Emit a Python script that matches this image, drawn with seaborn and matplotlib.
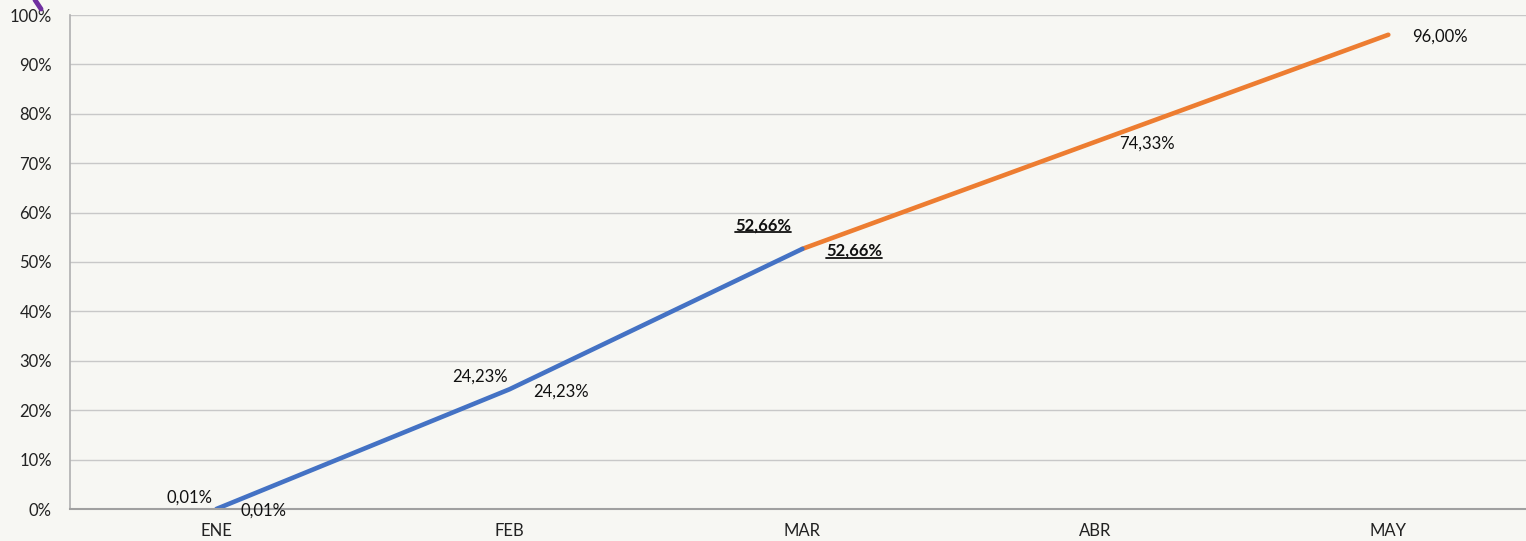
import matplotlib
matplotlib.use("Agg")
import matplotlib.pyplot as plt
import seaborn as sns
import pandas as pd
from matplotlib.lines import Line2D

# datos
meses = ["ENE", "FEB", "MAR", "ABR", "MAY"]
real_meses = ["ENE", "FEB", "MAR"]
real_vals = [0.01, 24.23, 52.66]
proy_meses = ["MAR", "ABR", "MAY"]
proy_vals = [52.66, 74.33, 96.00]
# etiquetas de la serie completa (lado derecho)
etiq_meses = ["ENE", "FEB", "MAR", "ABR", "MAY"]
etiq_vals = [0.01, 24.23, 52.66, 74.33, 96.00]

sns.set_theme(style="white")
plt.rcParams["font.family"] = ["Lato", "DejaVu Sans"]

bg = "#F7F7F3"
azul = "#4472C4"
naranja = "#ED7D31"

df_real = pd.DataFrame({"x": [meses.index(m) for m in real_meses], "y": real_vals})
df_proy = pd.DataFrame({"x": [meses.index(m) for m in proy_meses], "y": proy_vals})

fig = plt.figure(figsize=(15.26, 5.41), dpi=100)
fig.patch.set_facecolor(bg)
ax = fig.add_axes([70 / 1526, 32 / 541, 1456 / 1526, 494 / 541])
ax.set_facecolor(bg)

sns.lineplot(data=df_proy, x="x", y="y", color=naranja, lw=3.3, ax=ax,
             solid_capstyle="round")
sns.lineplot(data=df_real, x="x", y="y", color=azul, lw=3.3, ax=ax,
             solid_capstyle="round")

ax.set_xlim(-0.5, 4.47)
ax.set_ylim(0, 100)
ax.set_xticks(range(len(meses)))
ax.set_xticklabels(meses)
ax.set_yticks(range(0, 101, 10))
ax.set_yticklabels([f"{v}%" for v in range(0, 101, 10)])
ax.set_xlabel("")
ax.set_ylabel("")
ax.tick_params(length=0, labelsize=12, colors="#222222")
ax.tick_params(axis="x", pad=10)
ax.tick_params(axis="y", pad=13)
ax.grid(axis="y", color="#C8C8C8", lw=1)
ax.set_axisbelow(True)
for s in ["top", "right"]:
    ax.spines[s].set_visible(False)
ax.spines["left"].set_color("#B0B0B0")
ax.spines["bottom"].set_color("#A0A0A0")
ax.spines["left"].set_linewidth(1.2)
ax.spines["bottom"].set_linewidth(1.5)

def fmt(v):
    return f"{v:.2f}%".replace(".", ",")

destacado = "MAR"
subrayar = []

# etiquetas a la izquierda/arriba (serie real)
off_izq = [(-3, 8), (-1, 9), (-8, 17)]
for m, v, off in zip(real_meses, real_vals, off_izq):
    bold = m == destacado
    t = ax.annotate(fmt(v), (meses.index(m), v), xytext=off, textcoords="offset points",
                    ha="right", va="center", fontsize=12, color="#111111",
                    fontweight="bold" if bold else "normal")
    if bold:
        subrayar.append(t)

# etiquetas a la derecha
for m, v in zip(etiq_meses, etiq_vals):
    bold = m == destacado
    t = ax.annotate(fmt(v), (meses.index(m), v), xytext=(17, -1.5), textcoords="offset points",
                    ha="left", va="center", fontsize=12, color="#111111",
                    fontweight="bold" if bold else "normal")
    if bold:
        subrayar.append(t)

fig.canvas.draw()
r = fig.canvas.get_renderer()
for t in subrayar:
    bb = t.get_window_extent(r)
    y0 = bb.y0 + 1
    fig.add_artist(Line2D([bb.x0 / fig.bbox.width, bb.x1 / fig.bbox.width],
                          [y0 / fig.bbox.height, y0 / fig.bbox.height],
                          transform=fig.transFigure, color="#111111", lw=1.3))

# trazo morado recortado arriba a la izquierda
fig.add_artist(Line2D([35 / 1526, 41 / 1526], [1.0, 1 - 9 / 541], transform=fig.transFigure,
                      color="#7030A0", lw=3.5, solid_capstyle="round"))

fig.savefig("out.png", dpi=100, facecolor=bg)
